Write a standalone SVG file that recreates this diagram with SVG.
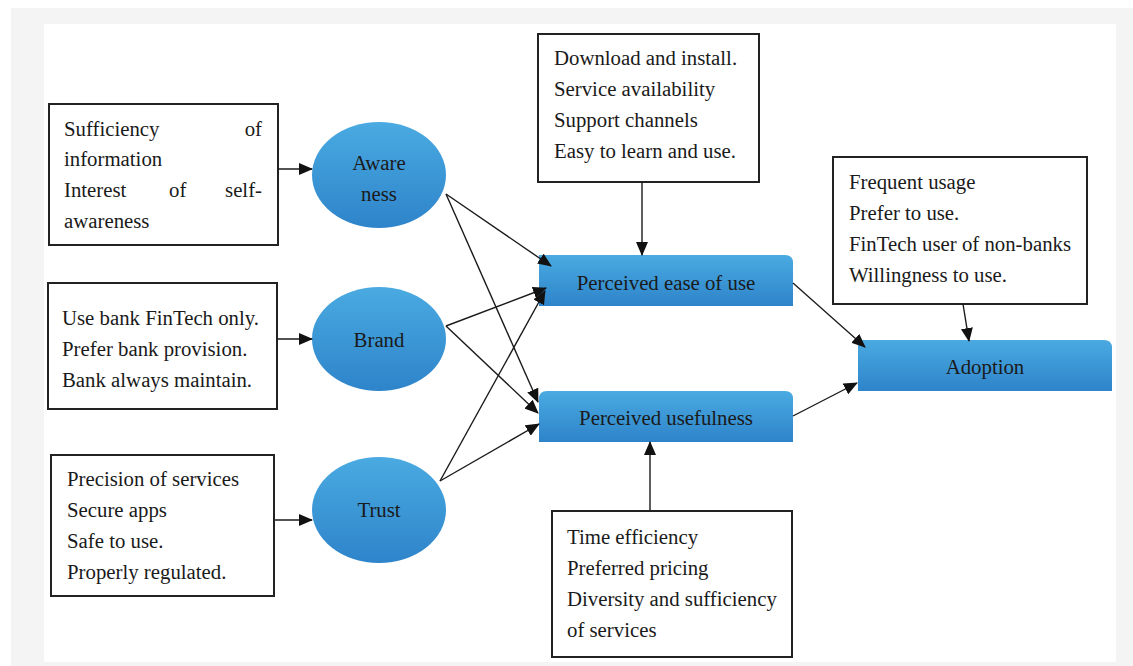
<svg xmlns="http://www.w3.org/2000/svg" width="1133" height="666" viewBox="0 0 1133 666">
<defs>
<linearGradient id="blue" x1="0" y1="0" x2="0" y2="1">
<stop offset="0" stop-color="#4aaae1"/>
<stop offset="1" stop-color="#2e84ca"/>
</linearGradient>
<marker id="ah" markerUnits="userSpaceOnUse" markerWidth="14" markerHeight="12" refX="13" refY="6" orient="auto">
<path d="M0,0 L14,6 L0,12 z" fill="#111"/>
</marker>
<style>
.box{fill:#fff;stroke:#222;stroke-width:2}
.shape{fill:url(#blue)}
text{font-family:"Liberation Serif","Times New Roman",serif;font-size:20.8px;fill:#1a1a1a}
.c{text-anchor:middle}
.r{text-anchor:end}
.con line{stroke:#1a1a1a;stroke-width:1.4;marker-end:url(#ah)}
</style>
</defs>
<rect x="11" y="8" width="1122" height="658" fill="#f4f4f4"/>
<rect x="44" y="24" width="1072" height="638" fill="#fff"/>

<g id="box-awareness">
<rect class="box" x="49" y="104" width="229" height="141"/>
<text x="64" y="136">Sufficiency</text><text class="r" x="262" y="136">of</text>
<text x="64" y="166">information</text>
<text x="64" y="197">Interest</text><text x="169" y="197">of</text><text class="r" x="262" y="197">self-</text>
<text x="64" y="228">awareness</text>
</g>
<g id="box-brand">
<rect class="box" x="48" y="283" width="229" height="126"/>
<text x="62" y="325">Use bank FinTech only.</text>
<text x="62" y="356">Prefer bank provision.</text>
<text x="62" y="387">Bank always maintain.</text>
</g>
<g id="box-trust">
<rect class="box" x="51" y="455" width="223" height="141"/>
<text x="67" y="486">Precision of services</text>
<text x="67" y="517">Secure apps</text>
<text x="67" y="548">Safe to use.</text>
<text x="67" y="579">Properly regulated.</text>
</g>
<g id="box-ease-indicators">
<rect class="box" x="538" y="34" width="221" height="148"/>
<text x="554" y="65">Download and install.</text>
<text x="554" y="96">Service availability</text>
<text x="554" y="127">Support channels</text>
<text x="554" y="158">Easy to learn and use.</text>
</g>
<g id="box-adoption-indicators">
<rect class="box" x="833" y="157" width="254" height="147"/>
<text x="849" y="189">Frequent usage</text>
<text x="849" y="220">Prefer to use.</text>
<text x="849" y="251">FinTech user of non-banks</text>
<text x="849" y="282">Willingness to use.</text>
</g>
<g id="box-usefulness-indicators">
<rect class="box" x="552" y="511" width="240" height="146"/>
<text x="567" y="544">Time efficiency</text>
<text x="567" y="575">Preferred pricing</text>
<text x="567" y="606">Diversity and sufficiency</text>
<text x="567" y="637">of services</text>
</g>

<g id="awareness">
<ellipse class="shape" cx="379" cy="175" rx="67" ry="53"/>
<text class="c" x="379" y="170">Aware</text>
<text class="c" x="379" y="201">ness</text>
</g>
<g id="brand">
<ellipse class="shape" cx="379" cy="339" rx="67" ry="52"/>
<text class="c" x="379" y="347">Brand</text>
</g>
<g id="trust">
<ellipse class="shape" cx="379" cy="510" rx="67" ry="53"/>
<text class="c" x="379" y="517">Trust</text>
</g>
<g id="ease">
<path class="shape" d="M539,255 H785 Q793,255 793,263 V306 H539 Z"/>
<text class="c" x="666" y="290">Perceived ease of use</text>
</g>
<g id="usefulness">
<path class="shape" d="M547,391 H785 Q793,391 793,399 V442 H539 V399 Q539,391 547,391 Z"/>
<text class="c" x="666" y="425">Perceived usefulness</text>
</g>
<g id="adoption">
<path class="shape" d="M858,340 H1104 Q1112,340 1112,348 V391 H858 Z"/>
<text class="c" x="985" y="374">Adoption</text>
</g>

<g id="connectors" class="con">
<line x1="278" y1="169" x2="312" y2="169"/>
<line x1="277" y1="339" x2="312" y2="339"/>
<line x1="275" y1="520" x2="312" y2="520"/>
<line x1="446" y1="194" x2="551" y2="266"/>
<line x1="446" y1="194" x2="538" y2="402"/>
<line x1="446" y1="326" x2="546" y2="288"/>
<line x1="446" y1="326" x2="538" y2="413"/>
<line x1="440" y1="481" x2="545" y2="291"/>
<line x1="440" y1="481" x2="539" y2="424"/>
<line x1="642" y1="182" x2="642" y2="255"/>
<line x1="650" y1="511" x2="650" y2="442"/>
<line x1="793" y1="283" x2="865" y2="347"/>
<line x1="793" y1="416" x2="857" y2="383"/>
<line x1="963" y1="304" x2="969" y2="341"/>
</g>
</svg>
